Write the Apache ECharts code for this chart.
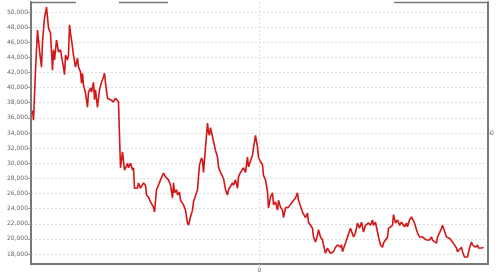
<!DOCTYPE html>
<html><head><meta charset="utf-8">
<script src="https://cdn.jsdelivr.net/npm/echarts@6/dist/echarts.min.js"></script>
<style>html,body{margin:0;padding:0;background:#fff}#c{width:500px;height:279px}</style>
</head><body><div id="c"></div>
<script>
// time index (centred on 0) and series values
const timeIndex = [-227,-226,-224,-222,-220,-218,-217,-216,-215,-213,-211,-209,-207,-206,-205,-203,-201,-199,-197,-196,-195,-194,-192,-191,-190,-189,-188,-186,-184,-182,-181,-179,-178,-177,-176,-174,-172,-171,-169,-168,-166,-165,-164,-162,-161,-160,-158,-156,-155,-154,-152,-149,-146,-144,-142,-141,-140,-139,-137,-135,-134,-132,-131,-129,-127,-126,-125,-122,-121,-119,-117,-116,-114,-113,-111,-109,-107,-106,-105,-103,-101,-99,-96,-94,-92,-91,-89,-87,-86,-85,-83,-82,-80,-79,-77,-76,-74,-72,-71,-69,-67,-66,-64,-62,-60,-58,-57,-56,-54,-52,-51,-50,-49,-47,-46,-44,-42,-41,-39,-36,-34,-32,-31,-29,-27,-26,-24,-22,-21,-19,-17,-16,-14,-12,-11,-9,-7,-6,-4,-2,-1,1,3,4,6,8,9,11,13,14,16,18,19,21,23,24,26,28,29,31,33,34,36,38,39,41,43,44,46,48,49,51,53,54,56,58,59,61,63,64,66,68,69,71,73,74,76,78,79,81,82,83,86,88,89,91,93,94,96,97,98,100,102,103,104,106,108,109,111,113,114,116,118,119,121,123,124,126,128,129,131,133,134,136,138,139,140,142,143,145,147,148,150,152,153,155,157,158,160,162,163,165,167,168,170,172,173,175,177,178,180,182,183,185,187,188,190,192,193,195,197,198,200,202,203,205,207,208,210,212,213,214,216,218,219,221,223,224,226,228];
const prices = [37000,35700,42300,47600,44900,42700,46000,46000,49200,50650,47900,47200,42300,45000,43650,46300,44700,45000,43400,42700,41700,44300,43650,44300,48300,47200,46300,44300,42700,43900,42700,42100,40600,41900,40300,39300,37400,39400,39950,39400,40700,38400,39700,37400,38600,39700,40700,41400,41900,40600,38600,38400,38100,38600,38400,38100,33700,29400,31500,29100,29400,30000,29400,30000,29100,29400,26700,26700,27400,26700,26900,27400,27100,25800,25500,24900,24700,24200,23550,26500,27100,27800,28700,28200,28400,27800,27100,25400,27400,26100,26500,25800,26200,25100,24900,24500,23800,22100,21800,22900,23800,24900,25100,26500,29800,30700,30400,28800,32100,35300,34100,33700,34700,33500,33700,31700,30800,29500,28800,28000,26500,25800,26500,26700,27400,27100,27800,26700,28200,28800,28700,29400,28800,30800,29500,29400,31100,32000,33700,32100,30800,30200,29800,28400,27800,26200,24100,25500,26100,24500,24900,23800,25100,24200,23800,22800,24100,24200,24200,24200,24900,25100,25400,26100,25100,24900,23550,23800,22800,23400,22200,21800,21400,20250,19600,20500,21200,20250,19850,19200,18100,18800,18500,18100,17900,18300,18900,19200,18950,18900,19200,18300,19450,20250,20500,21400,21200,20250,20800,20900,22100,21400,22200,21600,20900,21800,21600,22100,21800,22500,21800,22200,22100,20250,19200,18900,19450,19850,20250,21400,21600,21800,23200,22100,22500,22200,21800,22200,22100,21600,22100,21600,22500,22900,22800,22100,21200,20800,20250,20100,20250,20100,19850,20100,19850,20250,19850,20100,19450,20250,20800,21400,21800,21600,20250,20100,20100,19850,19600,19450,18800,18300,18500,18900,18300,17600,17600,17600,18800,19600,19200,19450,18900,19200,18800,18900,18800,18900];
const yTickValues = [18000,20000,22000,24000,26000,28000,30000,32000,34000,36000,38000,40000,42000,44000,46000,48000,50000];
const xTickLabels = ['0'];
const rightTickLabels = ['0'];

const seriesData = timeIndex.map((t, i) => [t, prices[i]]);
const axisColor = '#777';
const labelStyle = {color: '#666', fontSize: 6, fontFamily: 'DejaVu Sans'};

const chart = echarts.init(document.getElementById('c'), null, {renderer: 'canvas'});
chart.setOption({
  animation: false,
  grid: {left: 31, right: 12, top: 2, bottom: 15, containLabel: false},
  xAxis: {
    type: 'value', min: -228.5, max: 228.5, interval: 228.5,
    axisLine: {show: true, onZero: false, lineStyle: {color: axisColor, width: 2}},
    axisTick: {show: true, length: 2, customValues: [0], lineStyle: {color: '#bbb'}},
    axisLabel: Object.assign({customValues: [0], formatter: () => xTickLabels[0], margin: 3}, labelStyle),
    splitLine: {show: true, lineStyle: {color: '#ddd', type: [2, 2], width: 1}}
  },
  yAxis: [{
    type: 'value', min: 16680, max: 51320,
    axisLine: {show: true, onZero: false, lineStyle: {color: axisColor, width: 2}},
    axisTick: {show: true, length: 3, customValues: yTickValues, lineStyle: {color: '#999'}},
    axisLabel: Object.assign({customValues: yTickValues, margin: 3,
      formatter: v => v.toLocaleString('en-US')}, labelStyle),
    splitLine: {show: true, lineStyle: {color: '#ddd', type: [2, 2], width: 1}}
  }, {
    type: 'value', position: 'right', min: -1, max: 1,
    axisLine: {show: true, onZero: false, lineStyle: {color: axisColor, width: 2}},
    axisTick: {show: true, length: 3, customValues: [0], lineStyle: {color: '#999'}},
    axisLabel: Object.assign({customValues: [0], margin: 2, formatter: () => rightTickLabels[0]}, labelStyle),
    splitLine: {show: false}
  }],
  graphic: [
    {type: 'line', shape: {x1: 31, y1: 2.5, x2: 76, y2: 2.5}, style: {stroke: axisColor, lineWidth: 1.5}},
    {type: 'line', shape: {x1: 119, y1: 2.5, x2: 168, y2: 2.5}, style: {stroke: axisColor, lineWidth: 1.5}},
    {type: 'line', shape: {x1: 394, y1: 2.5, x2: 488, y2: 2.5}, style: {stroke: axisColor, lineWidth: 1.5}}
  ],
  series: [{
    type: 'line', data: seriesData, yAxisIndex: 0, showSymbol: false,
    lineStyle: {color: '#d41616', width: 1.6}, z: 5
  }]
});
</script></body></html>
